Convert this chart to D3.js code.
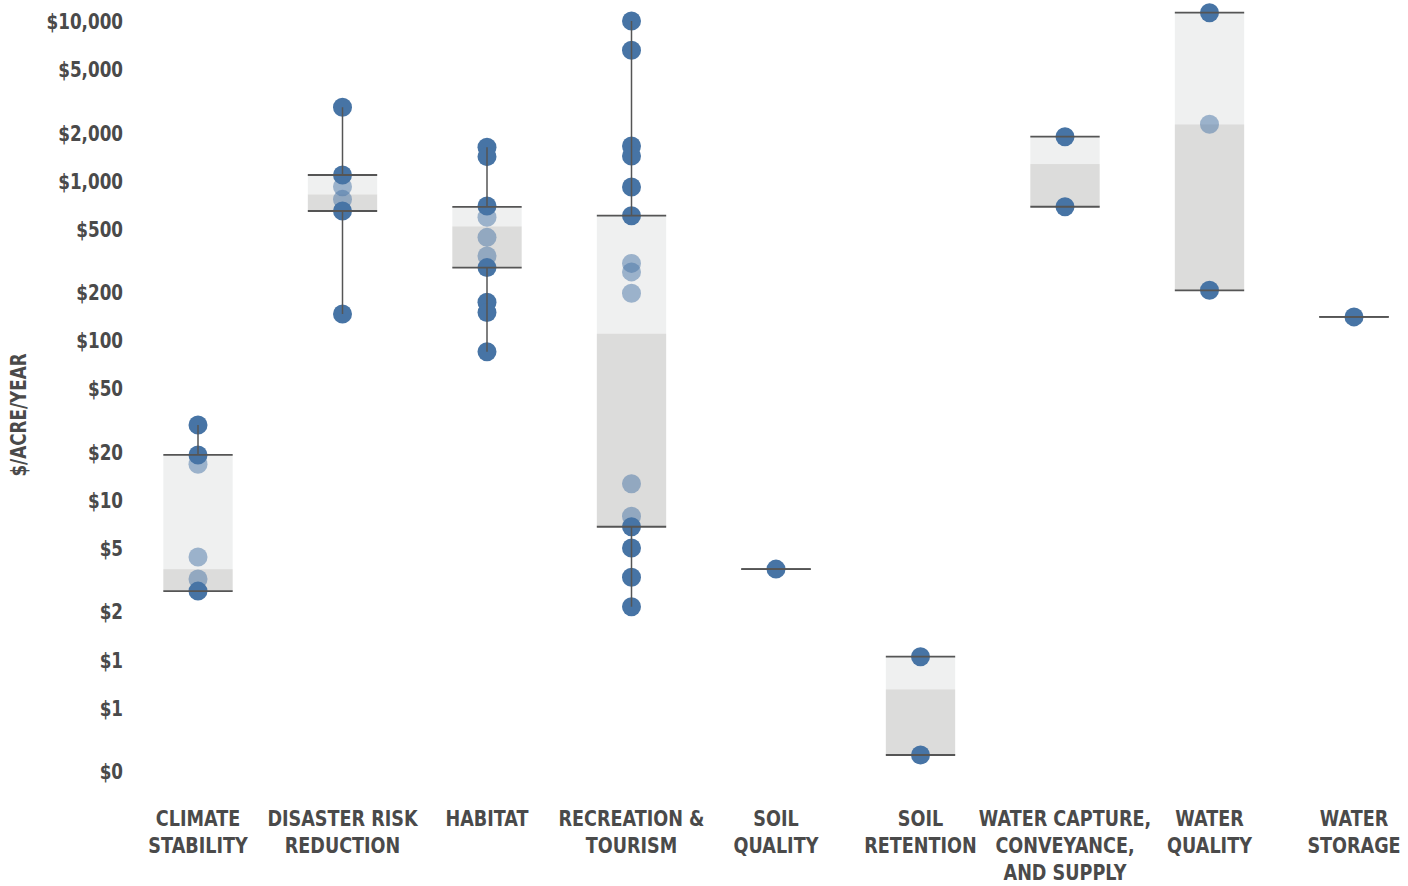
<!DOCTYPE html>
<html>
<head>
<meta charset="utf-8">
<script src="https://cdn.jsdelivr.net/npm/d3@7"></script>
<style>
  body { margin: 0; background: #fff; }
  text { font-family: "DejaVu Sans", sans-serif; font-weight: bold; fill: #4a4a4a; }
</style>
</head>
<body>
<div id="chart"></div>
<script>
// categories and their label lines
let categories = ["climate", "disaster", "habitat", "recreation", "soilQuality", "soilRetention", "waterCapture", "waterQuality", "waterStorage"];
let labelLines = [
  ["CLIMATE", "STABILITY"],
  ["DISASTER RISK", "REDUCTION"],
  ["HABITAT"],
  ["RECREATION &", "TOURISM"],
  ["SOIL", "QUALITY"],
  ["SOIL", "RETENTION"],
  ["WATER CAPTURE,", "CONVEYANCE,", "AND SUPPLY"],
  ["WATER", "QUALITY"],
  ["WATER", "STORAGE"]
];

// study values ($/acre/year) per category
let values = [
  [29.4, 19.1, 16.7, 4.38, 3.19, 2.68],
  [2880, 1084, 916, 763, 645, 146],
  [1617, 1413, 693, 589, 441, 337, 285, 173, 149, 84.7],
  [10000, 6550, 1648, 1426, 912, 603, 303, 268, 197, 12.6, 7.9, 6.78, 4.99, 3.27, 2.14],
  [3.68],
  [1.04, 0.252],
  [1884, 686],
  [11270, 2253, 205.5],
  [140]
];

// box stats per category
let q1 = [2.68, 645, 285, 6.78, 3.68, 0.252, 686, 205.5, 140];
let median = [3.68, 820, 517, 110, 3.68, 0.65, 1270, 2253, 140];
let q3 = [19.1, 1084, 684, 603, 3.68, 1.04, 1884, 11270, 140];

let yTicks = [10000, 5000, 2000, 1000, 500, 200, 100, 50, 20, 10, 5, 2, 1, 0.5, 0.2];

let svgWidth = 1408;
let svgHeight = 886;
// the original face is a condensed bold, squeeze DejaVu horizontally
let squeeze = 0.8;

let svg = d3.select("#chart")
  .append("svg")
  .attr("width", svgWidth)
  .attr("height", svgHeight);

let x = d3.scalePoint()
  .domain(categories)
  .range([198, 1354]);

let y = d3.scaleLog()
  .domain([0.2, 10000])
  .range([771, 21]);

let boxW = x.step() * 0.48;

// y axis
let yAxis = svg.append("g")
  .attr("transform", "translate(130,0)")
  .call(d3.axisLeft(y).tickValues(yTicks).tickFormat(d3.format("$,.0f")).tickSize(0).tickPadding(7));
yAxis.select(".domain").remove();
yAxis.selectAll("text")
  .style("font-size", "21px")
  .attr("fill", "#4a4a4a")
  .attr("x", 0)
  .attr("dy", "0.36em")
  .attr("transform", `translate(-7,0) scale(${squeeze},1)`);

svg.append("text")
  .attr("transform", `translate(26,415) rotate(-90) scale(${squeeze},1)`)
  .attr("text-anchor", "middle")
  .style("font-size", "21px")
  .text("$/ACRE/YEAR");

let rows = categories.map((c, i) => ({ c: c, i: i }));

// boxes: upper part (q3 -> median) light, lower part (median -> q1) darker
let boxes = svg.append("g");
boxes.selectAll(".upper")
  .data(rows)
  .enter()
  .append("rect")
  .attr("x", d => x(d.c) - boxW / 2)
  .attr("y", d => y(q3[d.i]))
  .attr("width", boxW)
  .attr("height", d => y(median[d.i]) - y(q3[d.i]))
  .attr("fill", "#eff0f0");

boxes.selectAll(".lower")
  .data(rows)
  .enter()
  .append("rect")
  .attr("x", d => x(d.c) - boxW / 2)
  .attr("y", d => y(median[d.i]))
  .attr("width", boxW)
  .attr("height", d => y(q1[d.i]) - y(median[d.i]))
  .attr("fill", "#dcdcdb");

// points
let points = [];
values.forEach((arr, i) => arr.forEach(v => points.push({ c: categories[i], i: i, v: v })));

svg.append("g")
  .selectAll("circle")
  .data(points)
  .enter()
  .append("circle")
  .attr("cx", d => x(d.c))
  .attr("cy", d => y(d.v))
  .attr("r", 9.5)
  .attr("fill", "#4774a5")
  .attr("opacity", d => (d.v < q3[d.i] * 0.98 && d.v > q1[d.i] * 1.02) ? 0.5 : 1);

// whiskers and box edges on top
let lines = svg.append("g")
  .attr("stroke", "#555")
  .attr("fill", "none");

lines.selectAll(".whiskerTop")
  .data(rows)
  .enter()
  .append("line")
  .attr("x1", d => x(d.c))
  .attr("x2", d => x(d.c))
  .attr("y1", d => y(d3.max(values[d.i])))
  .attr("y2", d => y(q3[d.i]))
  .attr("stroke-width", 1.5);

lines.selectAll(".whiskerBottom")
  .data(rows)
  .enter()
  .append("line")
  .attr("x1", d => x(d.c))
  .attr("x2", d => x(d.c))
  .attr("y1", d => y(q1[d.i]))
  .attr("y2", d => y(d3.min(values[d.i])))
  .attr("stroke-width", 1.5);

lines.selectAll(".edgeTop")
  .data(rows)
  .enter()
  .append("line")
  .attr("x1", d => x(d.c) - boxW / 2)
  .attr("x2", d => x(d.c) + boxW / 2)
  .attr("y1", d => y(q3[d.i]))
  .attr("y2", d => y(q3[d.i]))
  .attr("stroke-width", 1.8);

lines.selectAll(".edgeBottom")
  .data(rows)
  .enter()
  .append("line")
  .attr("x1", d => x(d.c) - boxW / 2)
  .attr("x2", d => x(d.c) + boxW / 2)
  .attr("y1", d => y(q1[d.i]))
  .attr("y2", d => y(q1[d.i]))
  .attr("stroke-width", 1.8);

// category labels
let labels = svg.append("g")
  .selectAll("text")
  .data(rows)
  .enter()
  .append("text")
  .attr("text-anchor", "middle")
  .style("font-size", "22px")
  .attr("transform", d => `translate(${x(d.c)}, 826) scale(${squeeze},1)`);

labels.selectAll("tspan")
  .data(d => labelLines[d.i])
  .enter()
  .append("tspan")
  .attr("x", 0)
  .attr("y", (d, j) => j * 27)
  .text(d => d);
</script>
</body>
</html>
